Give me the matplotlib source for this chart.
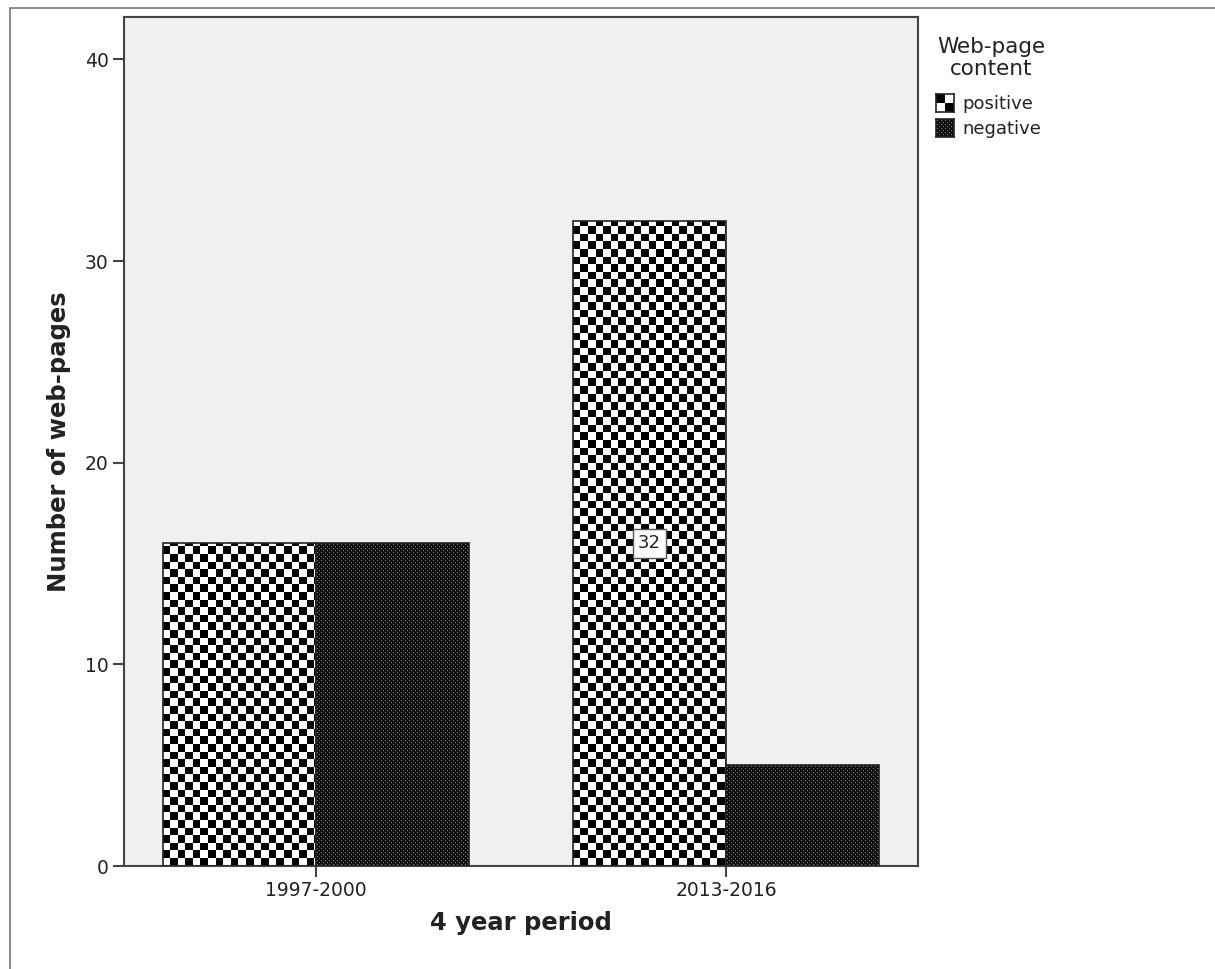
import numpy as np
import matplotlib
matplotlib.use('Agg')
import matplotlib.pyplot as plt
from matplotlib.patches import Rectangle

# data
periods = ['1997-2000', '2013-2016']
positive = [16, 32]
negative = [16, 5]
series_names = ['positive', 'negative']
label_text = {(1, 0): '32'}   # (period index, series index) -> shown label

W, H = 1215, 969
fig = plt.figure(figsize=(W / 100, H / 100), dpi=100)
fig.patch.set_facecolor('white')

# outer frame around the chart (runs off the right and bottom edges)
fig.patches.append(Rectangle((10 / W, -0.2), 1.2, 1.2 - 8 / H, transform=fig.transFigure,
                             fill=False, edgecolor='#777777', lw=1.2, clip_on=False))

ax_l, ax_r, ax_t, ax_b = 124, 918, 17, 866
ax = fig.add_axes([ax_l / W, 1 - ax_b / H, (ax_r - ax_l) / W, (ax_b - ax_t) / H])
ax.set_facecolor('#f0f0f0')

x = np.arange(len(periods))
bw = 0.373
bars_pos = ax.bar(x - bw / 2, positive, width=bw, color='none', edgecolor='#222222', lw=1.2, zorder=3)
bars_neg = ax.bar(x + bw / 2, negative, width=bw, color='none', edgecolor='#222222', lw=1.2, zorder=3)

ax.set_xlim(-0.468, 1.468)
ax.set_ylim(0, 42.1)

# pixel patterns (checker for positive, dotted dark for negative)
pw, ph = ax_r - ax_l, ax_b - ax_t
jj, ii = np.meshgrid(np.arange(pw), np.arange(ph))
cell = 7.6
checker = ((np.floor(jj / cell) + np.floor(ii / cell)) % 2).astype(float)
dots = np.full((ph, pw), 0.06)
dots[((ii % 4) == 1) & ((jj % 4) == 1)] = 0.5
dots[((ii % 4) == 3) & ((jj % 4) == 3)] = 0.5
ext = [*ax.get_xlim(), *ax.get_ylim()]
for bars, img in [(bars_pos, checker), (bars_neg, dots)]:
    for b in bars:
        im = ax.imshow(img, cmap='gray', vmin=0, vmax=1, extent=ext, origin='lower',
                       aspect='auto', interpolation='nearest', zorder=2)
        im.set_clip_path(b)
ax.set_xlim(-0.468, 1.468)
ax.set_ylim(0, 42.1)

for (pi, si), txt in label_text.items():
    b = [bars_pos, bars_neg][si][pi]
    ax.text(b.get_x() + b.get_width() / 2, b.get_height() / 2, txt, ha='center', va='center',
            fontsize=13, color='#222222', zorder=5,
            bbox=dict(boxstyle='square,pad=0.3', fc='white', ec='#555555', lw=1))

ax.set_xticks(x)
ax.set_xticklabels(periods)
ax.set_yticks([0, 10, 20, 30, 40])
ax.tick_params(axis='both', length=8, width=1.5, color='#444444', labelsize=13.5,
               labelcolor='#222222', pad=3)
for s in ax.spines.values():
    s.set_color('#444444')
    s.set_linewidth(1.5)
ax.set_xlabel('4 year period', fontsize=17.5, fontweight='bold', labelpad=8, color='#222222')
ax.set_ylabel('Number of web-pages', fontsize=17.5, fontweight='bold', labelpad=10, color='#222222')

# legend drawn by hand at the right of the plot
fig.text(991 / W, 1 - 58 / H, 'Web-page\ncontent', ha='center', va='center', fontsize=15.5,
         linespacing=1.15, color='#222222')
hs = 18
for k, (name, img) in enumerate(zip(series_names, [checker, dots])):
    yc = 103 + k * 25
    hax = fig.add_axes([936 / W, 1 - (yc + hs / 2) / H, hs / W, hs / H])
    if k == 0:
        small = np.array([[0, 1], [1, 0]], dtype=float)
        hax.imshow(small, cmap='gray', vmin=0, vmax=1, interpolation='nearest', aspect='auto')
    else:
        hax.imshow(img[:hs, :hs], cmap='gray', vmin=0, vmax=1, interpolation='nearest', aspect='auto')
    hax.set_xticks([])
    hax.set_yticks([])
    for s in hax.spines.values():
        s.set_color('#222222')
        s.set_linewidth(1.2)
    fig.text(962 / W, 1 - (yc + 1) / H, name, ha='left', va='center', fontsize=13, color='#222222')

fig.savefig('out.png', dpi=100)
